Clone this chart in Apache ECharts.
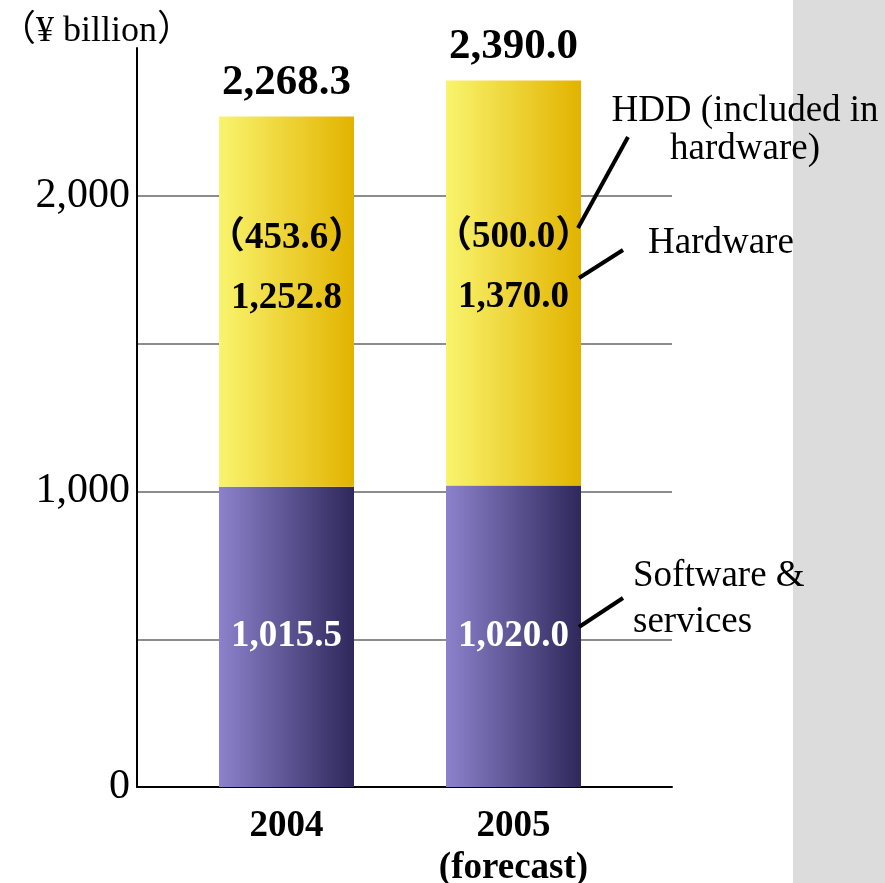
<!DOCTYPE html>
<html>
<head>
<meta charset="utf-8">
<script src="https://cdn.jsdelivr.net/npm/echarts@6/dist/echarts.min.js"></script>
<style>html,body{margin:0;padding:0;background:#fff}#c{width:885px;height:883px}</style>
</head>
<body>
<div id="c"></div>
<script>
const categories = ['2004', '2005\n(forecast)'];
const software = [1015.5, 1020.0];
const hardware = [1252.8, 1370.0];
const hdd = [453.6, 500.0];
const totals = [2268.3, 2390.0];
const yTickLabels = ['0', '1,000', '2,000'];

const SERIF = '"Liberation Serif", "Times New Roman", "Noto Sans CJK JP", serif';
const fmt = v => v.toLocaleString('en-US', {minimumFractionDigits: 1, maximumFractionDigits: 1});

const purple = {type: 'linear', x: 0, y: 0, x2: 1, y2: 0,
  colorStops: [{offset: 0, color: '#8c82cc'}, {offset: 1, color: '#2e285b'}]};
const yellow = {type: 'linear', x: 0, y: 0, x2: 1, y2: 0,
  colorStops: [{offset: 0, color: '#f9f46e'}, {offset: 1, color: '#e2b300'}]};

const chart = echarts.init(document.getElementById('c'));
chart.setOption({
  backgroundColor: '#ffffff',
  animation: false,
  grid: [
    {left: 173, right: 258, top: 48, bottom: 96, outerBoundsMode: 'none', containLabel: false},
    {left: 137, right: 213, top: 196, bottom: 96, outerBoundsMode: 'none', containLabel: false}
  ],
  xAxis: [
    {type: 'category', gridIndex: 0, data: categories,
     axisLine: {show: false}, axisTick: {show: false},
     axisLabel: {margin: 18, fontFamily: SERIF, fontWeight: 'bold', fontSize: 37, color: '#000', lineHeight: 42}},
    {type: 'category', gridIndex: 1, data: [''],
     axisLine: {show: true, lineStyle: {color: '#000', width: 2}}, axisTick: {show: false},
     axisLabel: {show: false}}
  ],
  yAxis: [
    {type: 'value', gridIndex: 0, min: 0, max: 2500, interval: 500, offset: 36,
     axisLine: {show: true, lineStyle: {color: '#000', width: 2}}, axisTick: {show: false},
     splitLine: {show: false},
     axisLabel: {margin: 7, fontFamily: SERIF, fontSize: 42, color: '#000',
       formatter: v => (v % 1000 === 0 ? yTickLabels[v / 1000] : '')}},
    {type: 'value', gridIndex: 1, min: 0, max: 2000, interval: 500,
     axisLine: {show: false}, axisTick: {show: false}, axisLabel: {show: false},
     splitLine: {show: true, lineStyle: {color: '#8c8c8c', width: 2}}}
  ],
  series: [
    {name: 'Total', type: 'bar', xAxisIndex: 0, yAxisIndex: 0, data: totals,
     barWidth: 135, barGap: '-100%', z: 1,
     itemStyle: {color: 'rgba(0,0,0,0)'},
     label: {show: true, position: 'top', distance: 12, formatter: p => fmt(p.value),
       fontFamily: SERIF, fontWeight: 'bold', fontSize: 43, color: '#000'}},
    {name: 'Software & services', type: 'bar', stack: 's', xAxisIndex: 0, yAxisIndex: 0,
     data: software, barWidth: 135, z: 3,
     itemStyle: {color: purple},
     label: {show: true, position: 'inside', formatter: p => fmt(p.value),
       fontFamily: SERIF, fontWeight: 'bold', fontSize: 37, color: '#fff'}},
    {name: 'Hardware', type: 'bar', stack: 's', xAxisIndex: 0, yAxisIndex: 0,
     data: hardware, barWidth: 135, z: 3,
     itemStyle: {color: yellow},
     label: {show: true, position: 'insideBottom', distance: 158,
       formatter: p => '{a|（' + fmt(hdd[p.dataIndex]) + '）}\n{b|' + fmt(p.value) + '}',
       rich: {
         a: {fontFamily: SERIF, fontWeight: 'bold', fontSize: 37, color: '#000', lineHeight: 60, align: 'center'},
         b: {fontFamily: SERIF, fontWeight: 'bold', fontSize: 37, color: '#000', lineHeight: 60, align: 'center'}
       }}}
  ],
  graphic: [
    {type: 'rect', left: 793, top: 0, z: -10, shape: {width: 92, height: 883}, style: {fill: '#dcdcdc'}},
    {type: 'text', left: 0, top: 14, z: 10,
     style: {text: '（¥ billion）', fontFamily: SERIF, fontSize: 36, fill: '#000'}},
    {type: 'text', x: 745, y: 92, z: 10,
     style: {text: 'HDD (included in\nhardware)', fontFamily: SERIF, fontSize: 37, fill: '#000',
       align: 'center', lineHeight: 38}},
    {type: 'text', x: 648, y: 225, z: 10,
     style: {text: 'Hardware', fontFamily: SERIF, fontSize: 37, fill: '#000'}},
    {type: 'text', x: 633, y: 553, z: 10,
     style: {text: 'Software &\nservices', fontFamily: SERIF, fontSize: 37, fill: '#000', lineHeight: 46}},
    {type: 'line', z: 10, shape: {x1: 578, y1: 228, x2: 628, y2: 137}, style: {stroke: '#000', lineWidth: 4}},
    {type: 'line', z: 10, shape: {x1: 579, y1: 278, x2: 623, y2: 250}, style: {stroke: '#000', lineWidth: 4}},
    {type: 'line', z: 10, shape: {x1: 579, y1: 627, x2: 623, y2: 598}, style: {stroke: '#000', lineWidth: 4}}
  ]
});
</script>
</body>
</html>
